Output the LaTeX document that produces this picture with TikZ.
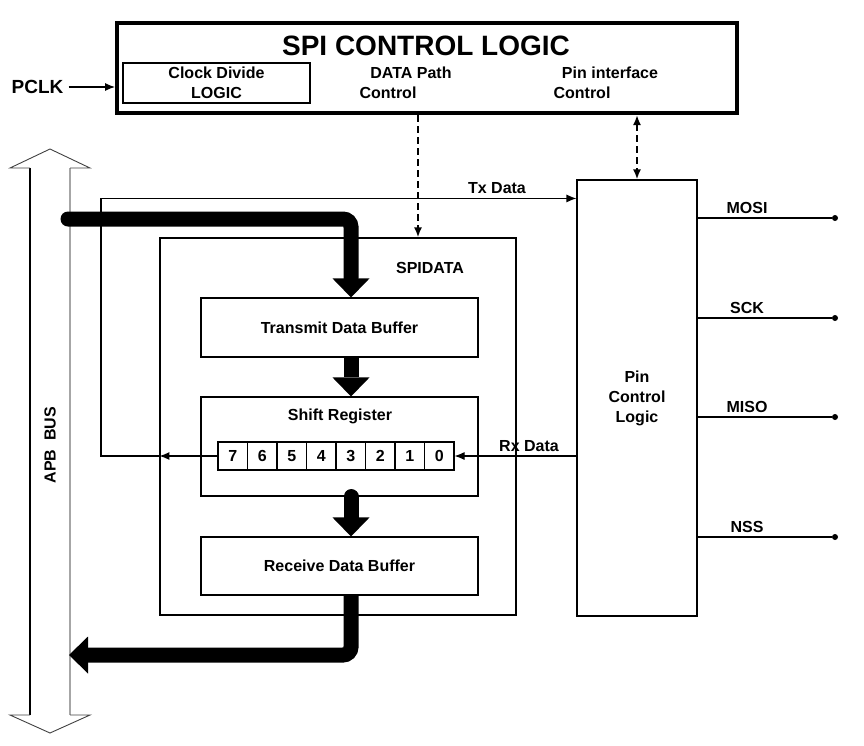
\documentclass[tikz,border=0pt]{standalone}
\usepackage{fontspec}
\setmainfont{Liberation Sans}
\usetikzlibrary{arrows.meta}

\tikzset{
  lbl/.style={font=\fontsize{16}{20}\selectfont\bfseries, inner sep=1pt},
  blk/.style={draw, line width=1.1pt, inner sep=0pt, minimum width=#1},
  blk/.default=277pt,
  cell/.style={draw, line width=1.1pt, minimum width=29.5pt, minimum height=28pt,
    inner sep=0pt, font=\fontsize{16}{20}\selectfont\bfseries},
  tip/.style={-{Latex[length=10pt,width=8pt]}},
  thin/.style={line width=1.1pt, tip},
  ctl/.style={line width=2pt, dash pattern=on 7pt off 4pt},
  bus/.style={line width=15pt, rounded corners=8pt,
    -{Triangle[width=37pt,length=19pt,line width=0pt]}},
  pin/.style={circle, fill, inner sep=0pt, minimum size=6pt},
}

\begin{document}
\begin{tikzpicture}[x=1pt,y=-1pt]
  \useasboundingbox (0,0) rectangle (864,745);

  % control logic on top
  \node[draw, line width=4pt, minimum width=620pt, minimum height=90pt] (ctrl) at (427,68) {};
  \node[font=\fontsize{28}{32}\selectfont\bfseries] (title) at (426,46) {SPI CONTROL LOGIC};
  \node[blk=187pt, minimum height=40pt, lbl, align=center] (clkdiv) at (216.5,83) {Clock Divide\\LOGIC};
  \node[lbl] (dpath) at (411,73) {DATA Path};
  \node[lbl] (dpathb) at (388,93) {Control};
  \node[lbl] (pinif) at (610,73) {Pin interface};
  \node[lbl] (pinifb) at (582,93) {Control};

  \node[font=\fontsize{19}{22}\selectfont\bfseries, inner sep=5pt] (pclk) at (37.5,87) {PCLK};
  \draw[thin] (pclk.east) -- (pclk.east -| ctrl.west);

  % APB bus
  \draw[line width=1.1pt] (30,168) -- (30,715);
  \draw[line width=1.4pt, gray!70] (70,168) -- (70,715);
  \draw[line width=0.9pt, black!75] (30,168) -- (10,168) -- (50,149) -- (90,168) -- (70,168);
  \draw[line width=0.9pt, black!75] (30,715) -- (10,715) -- (50,733) -- (90,715) -- (70,715);
  \node[lbl, rotate=90] (apb) at (50,445) {APB~~BUS};

  % SPIDATA
  \node[blk=356pt, minimum height=377pt] (spidata) at (338,426.5) {};
  \node[lbl] (spilbl) at (430,268) {SPIDATA};
  \node[blk, minimum height=59pt, lbl] (txbuf) at (339.5,327.5) {Transmit Data Buffer};
  \node[blk, minimum height=99pt] (shreg) at (339.5,446.5) {};
  \node[lbl] (shlbl) at (340,416) {Shift Register};
  \foreach \b [count=\i from 0] in {7,6,5,4,3,2,1,0}
    \node[cell] (c\b) at (232.75+29.5*\i,456) {\b};
  \node[blk, minimum height=58pt, lbl] (rxbuf) at (339.5,566) {Receive Data Buffer};

  % pin control
  \node[blk=120pt, minimum height=436pt, lbl, align=center] (pin) at (637,398) {Pin\\Control\\Logic};
  \foreach \p/\y/\n in {MOSI/218/mosi, SCK/318/sck, MISO/417/miso, NSS/537/nss} {
    \node[pin] (\n) at (835,\y) {};
    \draw[line width=1.1pt] (pin.east |- \n) -- (\n);
    \node[lbl] (\n lbl) at (747,\y-10) {\p};
  }

  % Tx and Rx data
  \coordinate (txl) at (101,456);
  \path (pin.north west) ++(0,19) coordinate (txin);
  \draw[thin] (c7.west) -- (spidata.west |- c7);
  \draw[thin] (spidata.west |- c7) -- (txl) |- (txin);
  \node[lbl] (txlbl) at (497,188) {Tx Data};
  \draw[thin] (pin.west |- c0) -- (c0.east);
  \node[lbl] (rxlbl) at (529,446) {Rx Data};

  % control paths
  \coordinate (dp) at (418,0);
  \draw[ctl, tip] (ctrl.south -| dp) -- (spidata.north -| dp);
  \draw[ctl, {Latex[length=10pt,width=8pt]}-{Latex[length=10pt,width=8pt]}] (ctrl.south -| pin.north) -- (pin.north);

  % data flow
  \coordinate (col) at (351,0);
  \coordinate (busin) at (68,219);
  \coordinate (busout) at (69,655);
  \draw[bus, line cap=round] (busin) -| (txbuf.north -| col);
  \draw[bus] (txbuf.south -| col) -- (shreg.north -| col);
  \draw[bus, line cap=round] (shreg.south -| col) -- (rxbuf.north -| col);
  \draw[bus] (rxbuf.south -| col) |- (busout);

\end{tikzpicture}
\end{document}
